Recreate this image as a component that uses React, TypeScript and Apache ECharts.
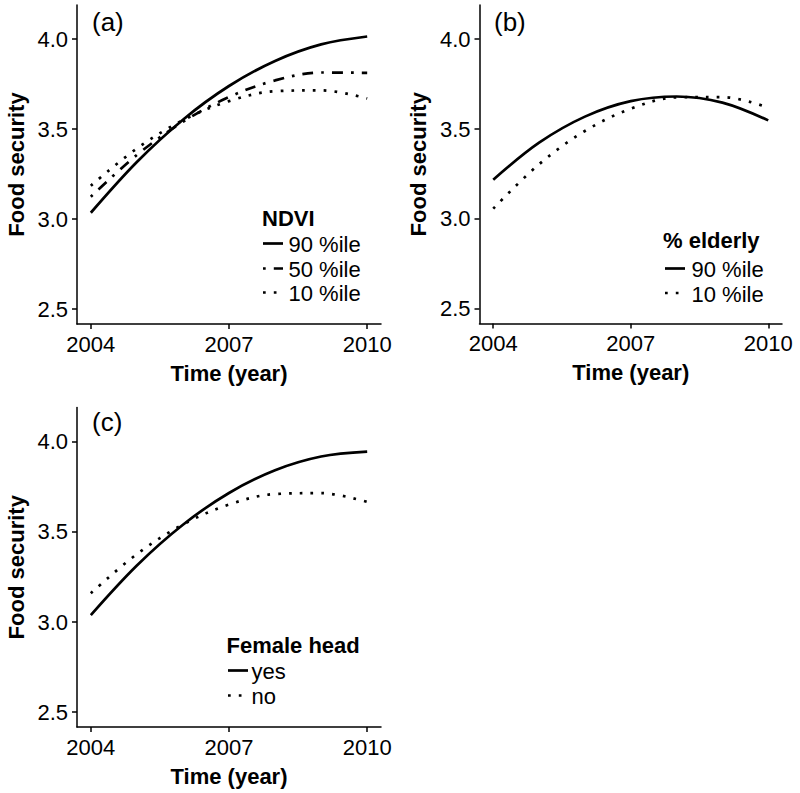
import React, { useEffect, useRef } from "react";
import * as echarts from "echarts";

const FONT = "'Liberation Sans', Arial, Helvetica, sans-serif";

// Data
const years = [2004, 2005, 2006, 2007, 2008, 2009, 2010];
const ndvi90 = [3.036, 3.318, 3.553, 3.74, 3.879, 3.971, 4.015];
const ndvi50 = [3.125, 3.357, 3.541, 3.679, 3.771, 3.815, 3.813];
const ndvi10 = [3.186, 3.393, 3.55, 3.656, 3.711, 3.716, 3.671];
const elderly90 = [3.218, 3.424, 3.569, 3.655, 3.681, 3.647, 3.548];
const elderly10 = [3.057, 3.304, 3.489, 3.613, 3.676, 3.678, 3.619];
const femaleYes = [3.039, 3.314, 3.54, 3.716, 3.842, 3.918, 3.945];
const femaleNo = [3.16, 3.377, 3.541, 3.652, 3.71, 3.715, 3.666];

const xTicks = [2004, 2007, 2010];
const yTicks = [2.5, 3.0, 3.5, 4.0];
const panelLabels = ["(a)", "(b)", "(c)"];
const legendTitles = ["NDVI", "% elderly", "Female head"];
const legendA = ["90 %ile", "50 %ile", "10 %ile"];
const legendB = ["90 %ile", "10 %ile"];
const legendC = ["yes", "no"];

const LW = 2.7;
const FS = 22;
const DOT = [LW, LW * 3];
const DOTDASH = [LW, LW * 3, LW * 4, LW * 3];

const toPairs = (vals: number[]) => years.map((y, i) => [y, vals[i]]);

export default function App() {
  const ref = useRef<HTMLDivElement>(null);
  useEffect(() => {
    if (!ref.current) return;
    const chart = echarts.init(ref.current, undefined, { renderer: "svg" });

    const grids = [
      { left: 77, top: 5, width: 304, height: 319 },
      { left: 479.5, top: 5, width: 302.5, height: 318.5 },
      { left: 77, top: 407.5, width: 304, height: 319.5 },
    ];

    const axisLine = { show: true, lineStyle: { color: "#000", width: 1.5 } };
    const xAxes = grids.map((_, i) => ({
      type: "value",
      gridIndex: i,
      min: 2003.7,
      max: 2010.3,
      axisLine,
      axisTick: { show: true, length: 5, customValues: xTicks, lineStyle: { color: "#000", width: 1.5 } },
      axisLabel: {
        customValues: xTicks,
        formatter: (v: number) => String(v),
        fontSize: FS,
        color: "#000",
        fontFamily: FONT,
        margin: 9,
      },
      splitLine: { show: false },
      name: "Time (year)",
      nameLocation: "middle",
      nameGap: 38,
      nameTextStyle: { fontSize: FS, fontWeight: "bold", color: "#000", fontFamily: FONT },
    }));
    const yAxes = grids.map((_, i) => ({
      type: "value",
      gridIndex: i,
      min: 2.418,
      max: 4.19,
      axisLine,
      axisTick: { show: true, length: 5, customValues: yTicks, lineStyle: { color: "#000", width: 1.5 } },
      axisLabel: {
        customValues: yTicks,
        formatter: (v: number) => v.toFixed(1),
        fontSize: FS,
        color: "#000",
        fontFamily: FONT,
        margin: 9,
        padding: [4, 0, 0, 0],
      },
      splitLine: { show: false },
      name: "Food security",
      nameLocation: "middle",
      nameGap: 50,
      nameTextStyle: { fontSize: FS, fontWeight: "bold", color: "#000", fontFamily: FONT },
    }));

    const mk = (name: string, data: number[], idx: number, dash: any) => ({
      type: "line",
      name,
      xAxisIndex: idx,
      yAxisIndex: idx,
      data: toPairs(data),
      showSymbol: false,
      smooth: 0.35,
      lineStyle: { color: "#000", width: LW, type: dash, cap: "butt" },
      silent: true,
    });

    const series = [
      mk("NDVI 90 %ile", ndvi90, 0, "solid"),
      mk("NDVI 50 %ile", ndvi50, 0, DOTDASH),
      mk("NDVI 10 %ile", ndvi10, 0, DOT),
      mk("% elderly 90 %ile", elderly90, 1, "solid"),
      mk("% elderly 10 %ile", elderly10, 1, DOT),
      mk("Female head yes", femaleYes, 2, "solid"),
      mk("Female head no", femaleNo, 2, DOT),
    ];

    const txt = (x: number, y: number, text: string, size: number, bold = false) => ({
      type: "text",
      x,
      y,
      silent: true,
      style: {
        text,
        fontSize: size,
        fontWeight: bold ? "bold" : "normal",
        fontFamily: FONT,
        fill: "#000",
        align: "left",
        verticalAlign: "middle",
      },
    });
    const key = (x: number, y: number, dash: number[] | null) => ({
      type: "line",
      silent: true,
      shape: { x1: x, y1: y, x2: x + 20, y2: y },
      style: { stroke: "#000", lineWidth: LW, lineDash: dash || undefined, lineCap: "butt" },
    });

    const legend = (
      titleX: number,
      titleY: number,
      title: string,
      rows: string[],
      rowYs: number[],
      dashes: (number[] | null)[],
      keyX: number,
      textX: number
    ) => [
      txt(titleX, titleY, title, FS, true),
      ...rows.flatMap((r, i) => [key(keyX, rowYs[i], dashes[i]), txt(textX, rowYs[i] + 1, r, FS)]),
    ];

    const graphic = [
      txt(92, 22, panelLabels[0], 26),
      txt(494, 22, panelLabels[1], 26),
      txt(92, 422, panelLabels[2], 26),
      ...legend(262, 218, legendTitles[0], legendA, [243.5, 268.5, 292.5], [null, DOTDASH, DOT], 263, 288.5),
      ...legend(663, 240, legendTitles[1], legendB, [268.5, 293], [null, DOT], 665, 691.5),
      ...legend(226.5, 645, legendTitles[2], legendC, [670.5, 695.5], [null, DOT], 228, 251.5),
    ];

    chart.setOption({
      animation: false,
      backgroundColor: "#fff",
      textStyle: { fontFamily: FONT },
      grid: grids.map((g) => ({ ...g, containLabel: false })),
      xAxis: xAxes,
      yAxis: yAxes,
      series,
      graphic,
    });
    return () => chart.dispose();
  }, []);
  return (
    <div
      ref={ref}
      style={{ position: "fixed", left: 0, top: 0, width: 800, height: 793, background: "#fff" }}
    />
  );
}
